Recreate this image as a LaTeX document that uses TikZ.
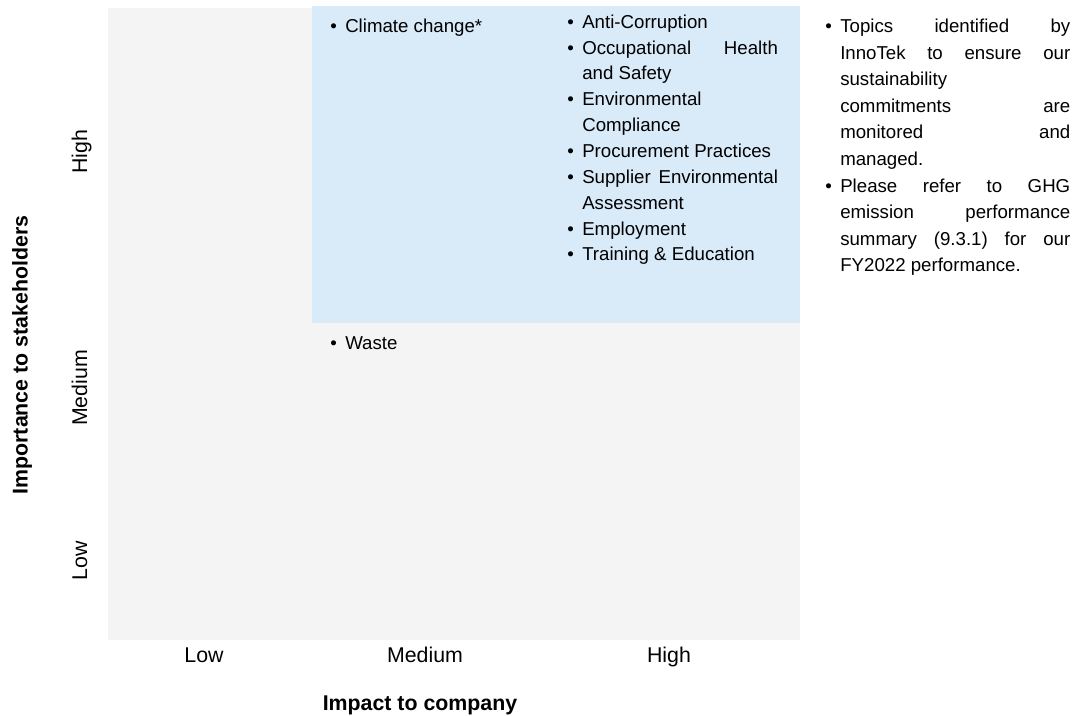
\documentclass[tikz,border=0pt]{standalone}
\usepackage{fontspec}
\setmainfont{Liberation Sans}
\usepackage{enumitem}
\usetikzlibrary{positioning}
\definecolor{gridgray}{RGB}{244,244,244}
\definecolor{matblue}{RGB}{217,234,249}
\hbadness=10000
\setlist[itemize]{leftmargin=11.25pt,labelsep=6.3pt,topsep=0pt,itemsep=0pt,parsep=0pt}
\begin{document}
\begin{tikzpicture}[x=0.75pt,y=-0.75pt,
   tick/.style={font=\fontsize{16}{19}\selectfont,inner sep=0pt,anchor=base},
   title/.style={font=\fontsize{16}{19}\selectfont\bfseries,inner sep=0pt},
   topics/.style={anchor=north west,inner sep=0pt,align=justify,
      font=\fontsize{14}{19.4}\selectfont}
]
\useasboundingbox (0,0) rectangle (1078,715);
\fill[gridgray] (108,8) rectangle (800,640);
\fill[matblue] (312,6) rectangle (800,323);
% lists in the matrix
\node[topics,text width=150pt] (climate) at (330,6) {%
  \begin{itemize}
  \item Climate change*
  \end{itemize}};
\node[topics,text width=158pt] (high) at (567,2) {%
  \begin{itemize}
  \item Anti-Corruption
  \item Occupational Health\linebreak and Safety
  \item Environmental\linebreak Compliance
  \item Procurement Practices
  \item Supplier Environmental\linebreak Assessment
  \item Employment
  \item Training \& Education
  \end{itemize}};
\node[topics,text width=150pt] (waste) at (330,323) {%
  \begin{itemize}
  \item Waste
  \end{itemize}};
% note on the right
\node[topics,text width=183.75pt,font=\fontsize{14}{19.9}\selectfont] (note) at (825,6) {%
  \begin{itemize}
  \item Topics identified by\linebreak InnoTek to ensure our\linebreak sustainability\linebreak
    commitments are\linebreak monitored and\linebreak managed.
  \item Please refer to GHG\linebreak emission performance\linebreak
    summary (9.3.1) for our\linebreak FY2022 performance.
  \end{itemize}};
% axes
\node[tick] (xlow) at (204,662) {Low};
\node[tick] (xmed) at (425,662) {Medium};
\node[tick] (xhigh) at (669,662) {High};
\node[tick,rotate=90] (ylow) at (87,561) {Low};
\node[tick,rotate=90] (ymed) at (87,388) {Medium};
\node[tick,rotate=90] (yhigh) at (87,152) {High};
\node[title] (xtitle) at (420,705) {Impact to company};
\node[title,rotate=90] (ytitle) at (22,355) {Importance to stakeholders};
\end{tikzpicture}
\end{document}
